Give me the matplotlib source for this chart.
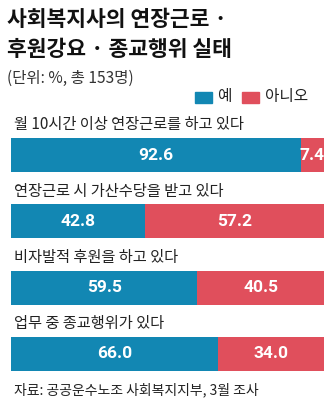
import numpy as np
import matplotlib
matplotlib.use('Agg')
import matplotlib.pyplot as plt
from matplotlib.patches import Rectangle

plt.rcParams['font.family'] = ['Noto Sans CJK KR', 'DejaVu Sans']

# survey items (percent, n=153)
questions = ['월 10시간 이상 연장근로를 하고 있다',
             '연장근로 시 가산수당을 받고 있다',
             '비자발적 후원을 하고 있다',
             '업무 중 종교행위가 있다']
yes = [92.6, 42.8, 59.5, 66.0]
no = [7.4, 57.2, 40.5, 34.0]

BLUE = '#1287b3'
RED = '#e04f5c'
W, H = 332, 404

fig = plt.figure(figsize=(W / 100, H / 100), dpi=100)
fig.patch.set_facecolor('white')

def fx(px):
    return px / W

def fy(py):
    return 1 - py / H

# title / subtitle
fig.text(fx(7), fy(19), '사회복지사의 연장근로 ·', fontsize=15.5, fontweight='heavy',
         color='#111111', va='center')
fig.text(fx(7), fy(49), '후원강요 · 종교행위 실태', fontsize=15.5, fontweight='heavy',
         color='#111111', va='center')
fig.text(fx(7), fy(78), '(단위: %, 총 153명)', fontsize=11.2, color='#333333', va='center')

# legend
fig.patches.append(Rectangle((fx(195), fy(103)), fx(17), 11 / H, color=BLUE,
                             transform=fig.transFigure))
fig.text(fx(217), fy(97), '예', fontsize=11.3, color='#222222', va='center')
fig.patches.append(Rectangle((fx(242), fy(103)), fx(17), 11 / H, color=RED,
                             transform=fig.transFigure))
fig.text(fx(265), fy(97), '아니오', fontsize=11.3, color='#222222', va='center')

# bars
top, bottom = 138, 371
ax = fig.add_axes([fx(11), fy(bottom), fx(324 - 11), (bottom - top) / H])
h = 34 / 66.3
y = np.arange(len(questions))
ax.barh(y, yes, height=h, color=BLUE, linewidth=0)
ax.barh(y, no, left=yes, height=h, color=RED, linewidth=0)
ax.set_xlim(0, 100)
ax.set_ylim(len(questions) - 1 + h / 2, -h / 2)
ax.axis('off')

for i in range(len(questions)):
    ax.text(1.0, i - 0.455, questions[i], fontsize=11, color='#222222',
            va='center', ha='left', clip_on=False)
    ax.text(yes[i] / 2, i, f'{yes[i]:.1f}', fontsize=12.5, fontweight='bold',
            color='white', ha='center', va='center', family=['Roboto', 'DejaVu Sans'])
    ax.text(yes[i] + no[i] / 2, i, f'{no[i]:.1f}', fontsize=12.5, fontweight='bold',
            color='white', ha='center', va='center', family=['Roboto', 'DejaVu Sans'])

fig.text(fx(14), fy(390), '자료: 공공운수노조 사회복지지부, 3월 조사', fontsize=10,
         color='#222222', va='center')

fig.savefig('out.png', dpi=100)
